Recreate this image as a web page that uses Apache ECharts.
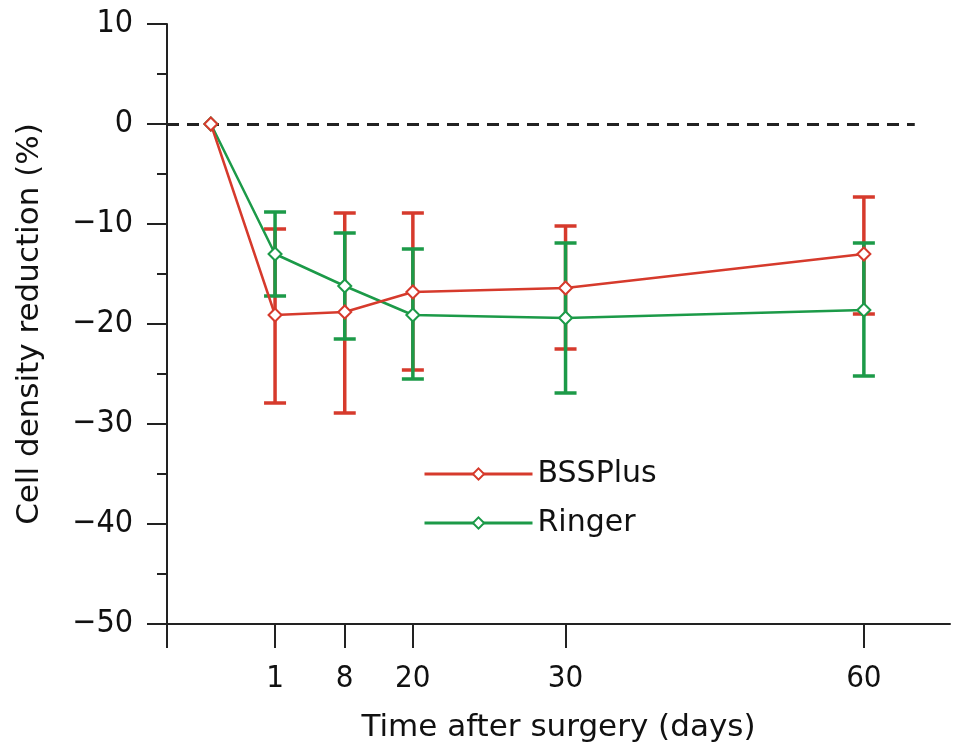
<!DOCTYPE html>
<html><head><meta charset="utf-8">
<script src="https://cdn.jsdelivr.net/npm/echarts@6/dist/echarts.min.js"></script>
<style>html,body{margin:0;padding:0;background:#fff}#c{width:953px;height:749px}</style>
</head><body><div id="c"></div>
<script>
// Time points (days) and their slot positions on the drawn (non-linear) time axis
const days = [0, 1, 8, 20, 30, 60];
const timePos = [5.6, 13.8, 22.7, 31.4, 50.9, 89.0];
const tickLabels = ['1', '8', '20', '30', '60'];
const labelPos = [13.8, 22.7, 31.4, 50.9, 89.0];

const bssMean = [0, -19.1, -18.8, -16.8, -16.4, -13.0];
const bssLow  = [0, -27.9, -28.9, -24.6, -22.5, -19.0];
const bssHigh = [0, -10.5, -8.9, -8.9, -10.2, -7.3];

const ringerMean = [0, -13.0, -16.2, -19.1, -19.4, -18.6];
const ringerLow  = [0, -17.2, -21.5, -25.5, -26.9, -25.2];
const ringerHigh = [0, -8.8, -10.9, -12.5, -11.9, -11.9];

const RED = '#d63a2c', GREEN = '#1c9a48', AX = '#222', TXT = '#111';
const NUMFONT = 'DejaVu Sans Condensed';
const TXTFONT = 'DejaVu Sans';

function errData(low, high) {
  const out = [];
  for (let i = 1; i < timePos.length; i++) out.push([timePos[i], low[i], high[i]]);
  return out;
}
function errSeries(name, low, high, color, z) {
  return {
    type: 'custom', name: name + ' err', z: z, silent: true,
    data: errData(low, high),
    encode: { x: 0, y: [1, 2] },
    renderItem: function (params, api) {
      const x = api.value(0);
      const p1 = api.coord([x, api.value(1)]);
      const p2 = api.coord([x, api.value(2)]);
      const hw = 11;
      const st = { stroke: color, lineWidth: 3.5 };
      return { type: 'group', children: [
        { type: 'line', shape: { x1: p1[0], y1: p1[1], x2: p2[0], y2: p2[1] }, style: st },
        { type: 'line', shape: { x1: p1[0] - hw, y1: p1[1], x2: p1[0] + hw, y2: p1[1] }, style: st },
        { type: 'line', shape: { x1: p2[0] - hw, y1: p2[1], x2: p2[0] + hw, y2: p2[1] }, style: st }
      ]};
    }
  };
}
function pts(mean) { return mean.map((v, i) => [timePos[i], v]); }

const chart = echarts.init(document.getElementById('c'));
chart.setOption({
  animation: false,
  backgroundColor: '#fff',
  grid: { left: 167, right: 3, top: 24, bottom: 125 },
  legend: {
    orient: 'vertical', left: 423, top: 459, padding: 0,
    itemWidth: 108, itemHeight: 14, itemGap: 19,
    data: ['BSSPlus', 'Ringer'],
    lineStyle: { width: 3 },
    textStyle: { fontFamily: TXTFONT, fontSize: 30, color: TXT }
  },
  xAxis: {
    type: 'value', min: 0, max: 100,
    name: 'Time after surgery (days)', nameLocation: 'middle', nameGap: 88,
    nameTextStyle: { fontFamily: TXTFONT, fontSize: 31, color: TXT },
    axisLine: { show: true, onZero: false, lineStyle: { color: AX, width: 2 } },
    axisTick: { show: true, length: 24, lineStyle: { color: AX, width: 2 }, customValues: [0].concat(labelPos) },
    axisLabel: {
      customValues: labelPos, margin: 39,
      fontFamily: NUMFONT, fontSize: 31, color: TXT,
      formatter: function (v) {
        for (let i = 0; i < labelPos.length; i++) if (Math.abs(labelPos[i] - v) < 1e-6) return tickLabels[i];
        return '';
      }
    },
    splitLine: { show: false }
  },
  yAxis: {
    type: 'value', min: -50, max: 10, interval: 10,
    name: 'Cell density reduction (%)', nameLocation: 'middle', nameGap: 122, nameRotate: 90,
    nameTextStyle: { fontFamily: TXTFONT, fontSize: 31, color: TXT },
    axisLine: { show: true, lineStyle: { color: AX, width: 2 } },
    axisTick: { show: true, length: 20, lineStyle: { color: AX, width: 2 } },
    minorTick: { show: true, splitNumber: 2, length: 10, lineStyle: { color: AX, width: 2 } },
    axisLabel: {
      margin: 34, fontFamily: NUMFONT, fontSize: 32, color: TXT,
      formatter: function (v) { return v < 0 ? '\u2212' + Math.abs(v) : String(v); }
    },
    splitLine: { show: false }
  },
  series: [
    {
      type: 'line', name: 'zero', silent: true, data: [], z: 1,
      markLine: {
        silent: true, symbol: 'none', label: { show: false },
        lineStyle: { color: AX, width: 3, type: [12, 8] },
        data: [[{ coord: [0, 0] }, { coord: [95.5, 0] }]]
      }
    },
    errSeries('BSSPlus', bssLow, bssHigh, RED, 2),
    errSeries('Ringer', ringerLow, ringerHigh, GREEN, 3),
    {
      type: 'line', name: 'BSSPlus', data: pts(bssMean), z: 6,
      symbol: 'diamond', symbolSize: 13, showSymbol: true,
      lineStyle: { color: RED, width: 2.5 },
      itemStyle: { color: '#fff', borderColor: RED, borderWidth: 2 }
    },
    {
      type: 'line', name: 'Ringer', data: pts(ringerMean), z: 5,
      symbol: 'diamond', symbolSize: 13, showSymbol: true,
      lineStyle: { color: GREEN, width: 2.5 },
      itemStyle: { color: '#fff', borderColor: GREEN, borderWidth: 2 }
    }
  ]
});
</script></body></html>
